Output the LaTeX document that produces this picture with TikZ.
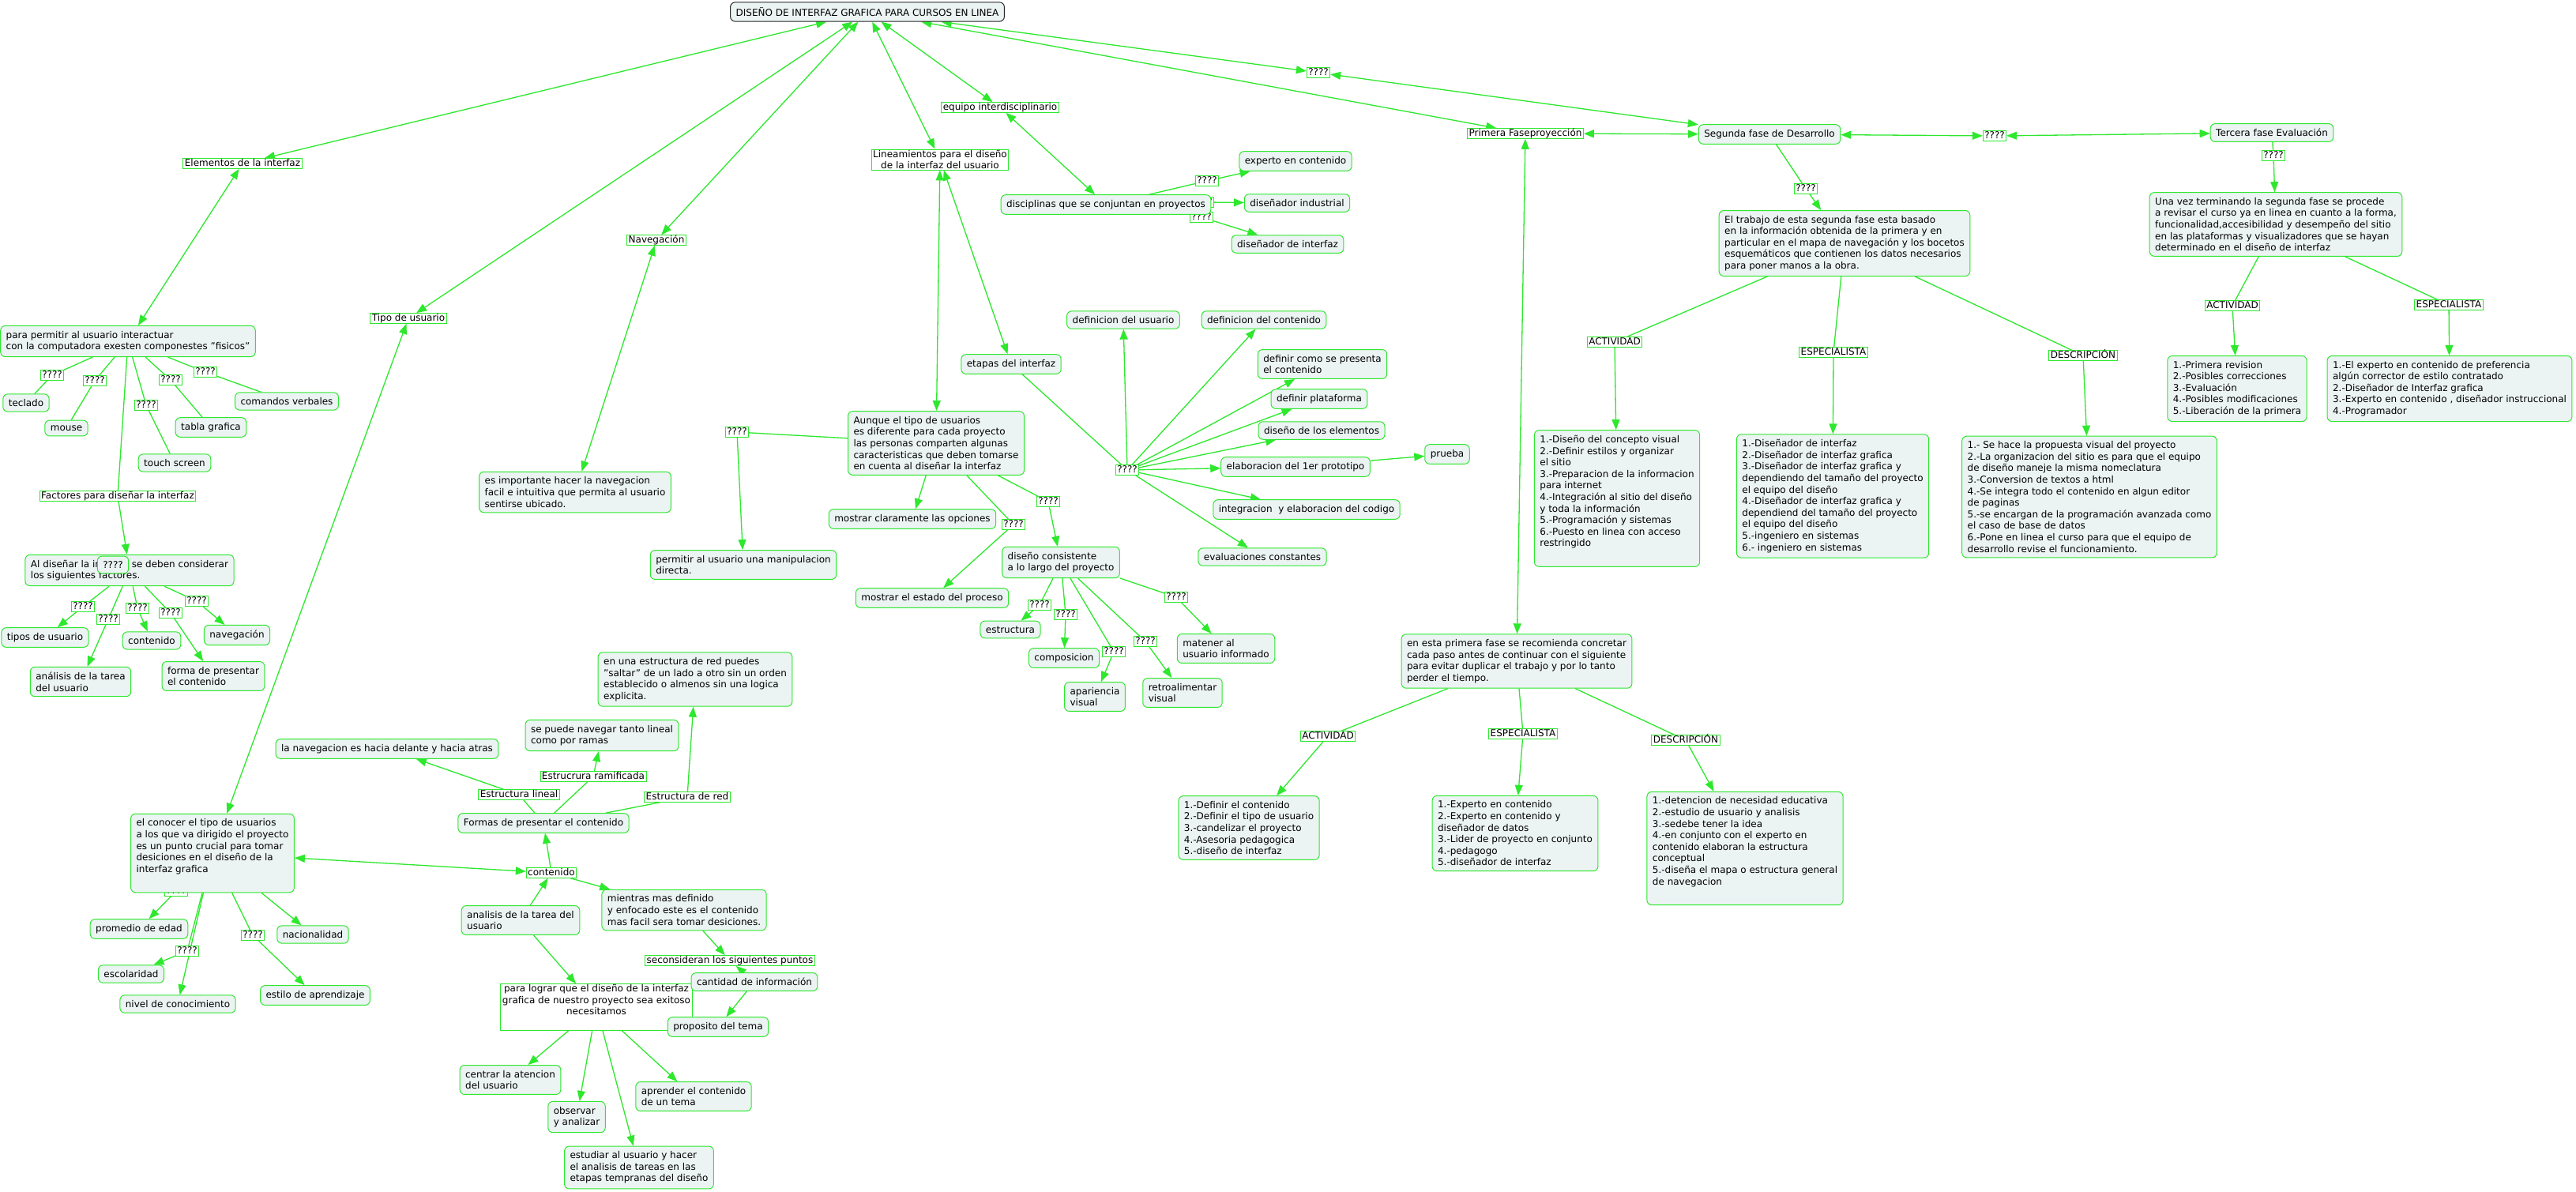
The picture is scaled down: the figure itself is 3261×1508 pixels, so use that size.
\documentclass[tikz,border=0pt]{standalone}
\usepackage{fontspec}
\setmainfont{DejaVu Sans}
\usetikzlibrary{arrows.meta}
\definecolor{cmgreen}{RGB}{45,232,45}
\definecolor{cmfill}{RGB}{236,243,243}
\tikzstyle{concept} = [draw=cmgreen, fill=cmfill, rounded corners=6pt, line width=1pt, align=left, inner xsep=7pt, inner ysep=6.5pt]
\tikzstyle{root} = [concept, draw=black!85]
\tikzstyle{link} = [draw=cmgreen, fill=white, line width=0.8pt, inner xsep=2pt, inner ysep=0.6pt, text height=9pt, text depth=2.6pt]
\tikzstyle{linkb} = [draw=cmgreen, fill=white, line width=0.8pt, align=center, inner xsep=2pt, inner ysep=1pt]
\tikzstyle{frame} = [draw=cmgreen, fill=white, line width=1pt, align=center, inner xsep=2pt, inner ysep=0.5pt]
\tikzstyle{conn} = [draw=cmgreen, line width=1.3pt]
\pgfdeclarelayer{edges}
\pgfsetlayers{edges,main}

\begin{document}
\begin{tikzpicture}[x=1pt,y=-1pt,font=\fontsize{12}{14.6}\selectfont,>={Triangle[length=13pt,width=10pt]}]
	\useasboundingbox (0,0) rectangle (3261,1508);

	% put the main nodes where we want them
	\node [root] (t0) at (1098,15) {DISEÑO DE INTERFAZ GRAFICA PARA CURSOS EN LINEA};
	\node [link] (q0) at (1669,92) {????};
	\node [link] (elem) at (307,207) {Elementos de la interfaz};
	\node [link] (tipo) at (517,403) {Tipo de usuario};
	\node [link] (nav) at (831,304) {Navegación};
	\node [linkb] (linea) at (1190,202) {Lineamientos para el diseño\\de la interfaz del usuario};
	\node [link] (equipo) at (1266,136) {equipo interdisciplinario};
	\node [link] (prim) at (1931,169) {Primera Faseproyección};
	\node [concept] (seg) at (2240,170) {Segunda fase de Desarrollo};
	\node [link] (qs) at (2525,172) {????};
	\node [concept] (terc) at (2876,168) {Tercera fase Evaluación};

	% equipo interdisciplinario
	\node [link] (qd2) at (1522,256) {????};
	\node [link] (qd3) at (1521,275) {????};
	\node [concept] (disc) at (1400,259) {disciplinas que se conjuntan en proyectos};
	\node [link] (qd1) at (1528,229) {????};
	\node [concept] (exp) at (1640,204) {experto en contenido};
	\node [concept] (ind) at (1642,257) {diseñador industrial};
	\node [concept] (dint) at (1630,309) {diseñador de interfaz};

	% tercera fase
	\node [link] (qt) at (2878,197) {????};
	\node [concept] (unavez) at (2881,284) {Una vez terminando la segunda fase se procede\\a revisar el curso ya en linea en cuanto a la forma,\\funcionalidad,accesibilidad y desempeño del sitio\\en las plataformas y visualizadores que se hayan\\determinado en el diseño de interfaz};
	\node [link] (actT) at (2826,387) {ACTIVIDAD};
	\node [link] (espT) at (3100,386) {ESPECIALISTA};
	\node [concept] (revT) at (2832,492) {1.-Primera revision\\2.-Posibles correcciones\\3.-Evaluación\\4.-Posibles modificaciones\\5.-Liberación de la primera};
	\node [concept] (expT) at (3101,492) {1.-El experto en contenido de preferencia\\algún corrector de estilo contratado\\2.-Diseñador de Interfaz grafica\\3.-Experto en contenido , diseñador instruccional\\4.-Programador};

	% segunda fase
	\node [link] (qsg) at (2286,239) {????};
	\node [concept] (trabajo) at (2335,308) {El trabajo de esta segunda fase esta basado\\en la información obtenida de la primera y en\\particular en el mapa de navegación y los bocetos\\esquemáticos que contienen los datos necesarios\\para poner manos a la obra.};
	\node [link] (actS) at (2044,433) {ACTIVIDAD};
	\node [link] (espS) at (2321,446) {ESPECIALISTA};
	\node [link] (desS) at (2637,450) {DESCRIPCIÓN};
	\node [concept] (boxAS) at (2047,631) {1.-Diseño del concepto visual\\2.-Definir estilos y organizar\\el sitio\\3.-Preparacion de la informacion\\para internet\\4.-Integración al sitio del diseño\\y toda la información\\5.-Programación y sistemas\\6.-Puesto en linea con acceso\\restringido\\\strut};
	\node [concept] (boxES) at (2320,628) {1.-Diseñador de interfaz\\2.-Diseñador de interfaz grafica\\3.-Diseñador de interfaz grafica y\\dependiendo del tamaño del proyecto\\el equipo del diseño\\4.-Diseñador de interfaz grafica y\\dependiend del tamaño del proyecto\\el equipo del diseño\\5.-ingeniero en sistemas\\6.- ingeniero en sistemas};
	\node [concept] (boxDS) at (2645,629) {1.- Se hace la propuesta visual del proyecto\\2.-La organizacion del sitio es para que el equipo\\de diseño maneje la misma nomeclatura\\3.-Conversion de textos a html\\4.-Se integra todo el contenido en algun editor\\de paginas\\5.-se encargan de la programación avanzada como\\el caso de base de datos\\6.-Pone en linea el curso para que el equipo de\\desarrollo revise el funcionamiento.};

	% primera fase
	\node [concept] (enesta) at (1920,837) {en esta primera fase se recomienda concretar\\cada paso antes de continuar con el siguiente\\para evitar duplicar el trabajo y por lo tanto\\perder el tiempo.};
	\node [link] (actP) at (1681,932) {ACTIVIDAD};
	\node [link] (espP) at (1928,929) {ESPECIALISTA};
	\node [link] (desP) at (2134,937) {DESCRIPCIÓN};
	\node [concept] (boxAP) at (1581,1048) {1.-Definir el contenido\\2.-Definir el tipo de usuario\\3.-candelizar el proyecto\\4.-Asesoria pedagogica\\5.-diseño de interfaz};
	\node [concept] (boxEP) at (1918,1055) {1.-Experto en contenido\\2.-Experto en contenido y\\diseñador de datos\\3.-Lider de proyecto en conjunto\\4.-pedagogo\\5.-diseñador de interfaz};
	\node [concept] (boxDP) at (2209,1074) {1.-detencion de necesidad educativa\\2.-estudio de usuario y analisis\\3.-sedebe tener la idea\\4.-en conjunto con el experto en\\contenido elaboran la estructura\\conceptual\\5.-diseña el mapa o estructura general\\de navegacion\\\strut};

	% elementos de la interfaz
	\node [concept] (permitir) at (162,432) {para permitir al usuario interactuar\\con la computadora exesten componestes "fisicos"};
	\node [link] (qk) at (66,475) {????};
	\node [link] (qm) at (120,482) {????};
	\node [link] (qts) at (185,513) {????};
	\node [link] (qtg) at (216,481) {????};
	\node [link] (qcv) at (260,471) {????};
	\node [concept] (teclado) at (33,510) {teclado};
	\node [concept] (mouse) at (84,542) {mouse};
	\node [concept] (touch) at (221,586) {touch screen};
	\node [concept] (tabla) at (267,541) {tabla grafica};
	\node [concept] (comandos) at (363,508) {comandos verbales};
	\node [link] (factores) at (149,628) {Factores para diseñar la interfaz};
	\node [concept] (aldis) at (164,722) {Al diseñar la interfaz se deben considerar\\los siguientes factores.};
	\node [concept] (qbox) at (143,715) {????};
	\node [link] (qa1) at (105,768) {????};
	\node [link] (qa2) at (137,784) {????};
	\node [link] (qa3) at (174,770) {????};
	\node [link] (qa4) at (216,776) {????};
	\node [link] (qa5) at (249,761) {????};
	\node [concept] (tipos) at (57,807) {tipos de usuario};
	\node [concept] (anT) at (102,863) {análisis de la tarea\\del usuario};
	\node [concept] (contC) at (192,811) {contenido};
	\node [concept] (forma) at (270,856) {forma de presentar\\el contenido};
	\node [concept] (navC) at (300,804) {navegación};

	% tipo de usuario
	\node [link] (qh) at (223,1128) {????};
	\node [concept] (conocer) at (269,1080) {el conocer el tipo de usuarios\\a los que va dirigido el proyecto\\es un punto crucial para tomar\\desiciones en el diseño de la\\interfaz grafica\\\strut};
	\node [link] (qesc) at (237,1204) {????};
	\node [link] (qest) at (320,1184) {????};
	\node [concept] (promedio) at (176,1176) {promedio de edad};
	\node [concept] (escol) at (166,1233) {escolaridad};
	\node [concept] (nivel) at (225,1271) {nivel de conocimiento};
	\node [concept] (estilo) at (399,1260) {estilo de aprendizaje};
	\node [concept] (nacion) at (396,1183) {nacionalidad};

	% contenido
	\node [concept] (lanav) at (490,948) {la navegacion es hacia delante y hacia atras};
	\node [concept] (sepuede) at (762,931) {se puede navegar tanto lineal\\como por ramas};
	\node [concept] (enuna) at (880,860) {en una estructura de red puedes\\"saltar" de un lado a otro sin un orden\\establecido o almenos sin una logica\\explicita.};
	\node [concept] (formas) at (688,1042) {Formas de presentar el contenido};
	\node [link] (lineal) at (657,1006) {Estructura lineal};
	\node [link] (ramif) at (751,983) {Estrucrura ramificada};
	\node [link] (red) at (870,1009) {Estructura de red};
	\node [link] (contl) at (698,1105) {contenido};
	\node [concept] (analisis) at (659,1165) {analisis de la tarea del\\usuario};
	\node [concept] (mientras) at (866,1152) {mientras mas definido\\y enfocado este es el contenido\\mas facil sera tomar desiciones.};
	\node [link] (secons) at (924,1216) {seconsideran los siguientes puntos};
	\node [frame] (lograr) at (755,1275) {para lograr que el diseño de la interfaz\\grafica de nuestro proyecto sea exitoso\\necesitamos\\\strut};
	\node [concept] (cantidad) at (955,1243) {cantidad de información};
	\node [concept] (proposito) at (909,1300) {proposito del tema};
	\node [concept] (centrar) at (646,1367) {centrar la atencion\\del usuario};
	\node [concept] (observar) at (730,1414) {observar\\y analizar};
	\node [concept] (estudiar) at (809,1478) {estudiar al usuario y hacer\\el analisis de tareas en las\\etapas tempranas del diseño};
	\node [concept] (aprender) at (878,1388) {aprender el contenido\\de un tema};

	% navegacion y lineamientos
	\node [concept] (esimp) at (728,623) {es importante hacer la navegacion\\facil e intuitiva que permita al usuario\\sentirse ubicado.};
	\node [concept] (aunque) at (1185,561) {Aunque el tipo de usuarios\\es diferente para cada proyecto\\las personas comparten algunas\\caracteristicas que deben tomarse\\en cuenta al diseñar la interfaz};
	\node [link] (qa) at (933,547) {????};
	\node [concept] (permD) at (941,715) {permitir al usuario una manipulacion\\directa.};
	\node [concept] (mclar) at (1155,657) {mostrar claramente las opciones};
	\node [link] (qme) at (1283,664) {????};
	\node [concept] (mest) at (1180,757) {mostrar el estado del proceso};
	\node [link] (qdc) at (1327,635) {????};
	\node [concept] (discons) at (1343,712) {diseño consistente\\a lo largo del proyecto};
	\node [link] (qe1) at (1316,766) {????};
	\node [link] (qe2) at (1349,778) {????};
	\node [link] (qe3) at (1410,825) {????};
	\node [link] (qe4) at (1450,812) {????};
	\node [link] (qe5) at (1489,756) {????};
	\node [concept] (estruct) at (1279,797) {estructura};
	\node [concept] (compos) at (1347,833) {composicion};
	\node [concept] (aparie) at (1386,882) {apariencia\\visual};
	\node [concept] (retro) at (1497,877) {retroalimentar\\visual};
	\node [concept] (matener) at (1552,821) {matener al\\usuario informado};

	% etapas del interfaz
	\node [concept] (etapas) at (1280,461) {etapas del interfaz};
	\node [link] (hub) at (1427,595) {????};
	\node [concept] (defu) at (1422,405) {definicion del usuario};
	\node [concept] (defc) at (1600,405) {definicion del contenido};
	\node [concept] (defcomo) at (1674,461) {definir como se presenta\\el contenido};
	\node [concept] (defplat) at (1670,505) {definir plataforma};
	\node [concept] (diselem) at (1673,545) {diseño de los elementos};
	\node [concept] (elab) at (1640,591) {elaboracion del 1er prototipo};
	\node [concept] (prueba) at (1832,575) {prueba};
	\node [concept] (integ) at (1654,645) {integracion\ \ y elaboracion del codigo};
	\node [concept] (evalc) at (1598,705) {evaluaciones constantes};

	% draw the connectors under the nodes
	\begin{pgfonlayer}{edges}
	\fill [white] (0,0) rectangle (3261,1508);
	\draw [conn,<->] (t0) -- (elem);
	\draw [conn,<->] (t0) -- (tipo);
	\draw [conn,<->] (t0) -- (nav);
	\draw [conn,<->] (t0) -- (linea);
	\draw [conn,<->] (t0) -- (equipo);
	\draw [conn,<->] (t0) -- (q0);
	\draw [conn,<->] (t0) -- (prim);
	\draw [conn,<->] (q0) -- (seg);
	\draw [conn,<->] (prim) -- (seg);
	\draw [conn,<->] (prim) -- (enesta);
	\draw [conn,<->] (seg) -- (qs);
	\draw [conn,<->] (qs) -- (terc);
	\draw [conn,<->] (elem) -- (permitir);
	\draw [conn,<->] (tipo) -- (conocer);
	\draw [conn,<->] (nav) -- (esimp);
	\draw [conn,<->] (linea) -- (aunque);
	\draw [conn,<->] (linea) -- (etapas);
	\draw [conn,<->] (equipo) -- (disc);
	\draw [conn,<->] (conocer) -- (contl);

	% equipo
	\draw [conn] (disc) -- (qd1);
	\draw [conn,->] (qd1) -- (exp);
	\draw [conn,->] (qd2) -- (ind);
	\draw [conn,->] (qd3) -- (dint);

	% fases
	\draw [conn] (terc) -- (qt);
	\draw [conn,->] (qt) -- (unavez);
	\draw [conn] (unavez) -- (actT);
	\draw [conn,->] (actT) -- (revT);
	\draw [conn] (unavez) -- (espT);
	\draw [conn,->] (espT) -- (expT);
	\draw [conn] (seg) -- (qsg);
	\draw [conn,->] (qsg) -- (trabajo);
	\draw [conn] (trabajo) -- (actS);
	\draw [conn,->] (actS) -- (boxAS);
	\draw [conn] (trabajo) -- (espS);
	\draw [conn,->] (espS) -- (boxES);
	\draw [conn] (trabajo) -- (desS);
	\draw [conn,->] (desS) -- (boxDS);
	\draw [conn] (enesta) -- (actP);
	\draw [conn,->] (actP) -- (boxAP);
	\draw [conn] (enesta) -- (espP);
	\draw [conn,->] (espP) -- (boxEP);
	\draw [conn] (enesta) -- (desP);
	\draw [conn,->] (desP) -- (boxDP);

	% elementos
	\draw [conn] (permitir) -- (qk) -- (teclado);
	\draw [conn] (permitir) -- (qm) -- (mouse);
	\draw [conn] (permitir) -- (qts) -- (touch);
	\draw [conn] (permitir) -- (qtg) -- (tabla);
	\draw [conn] (permitir) -- (qcv) -- (comandos);
	\draw [conn] (permitir) -- (factores);
	\draw [conn,->] (factores) -- (aldis);
	\draw [conn] (aldis) -- (qa1);
	\draw [conn,->] (qa1) -- (tipos);
	\draw [conn] (aldis) -- (qa2);
	\draw [conn,->] (qa2) -- (anT);
	\draw [conn] (aldis) -- (qa3);
	\draw [conn,->] (qa3) -- (contC);
	\draw [conn] (aldis) -- (qa4);
	\draw [conn,->] (qa4) -- (forma);
	\draw [conn] (aldis) -- (qa5);
	\draw [conn,->] (qa5) -- (navC);

	% tipo de usuario
	\draw [conn,->] (qh) -- (promedio);
	\draw [conn] (conocer) -- (qesc);
	\draw [conn,->] (qesc) -- (escol);
	\draw [conn,->] (conocer) -- (nivel);
	\draw [conn] (conocer) -- (qest);
	\draw [conn,->] (qest) -- (estilo);
	\draw [conn,->] (conocer) -- (nacion);

	% contenido
	\draw [conn,->] (contl) -- (formas);
	\draw [conn] (formas) -- (lineal);
	\draw [conn,->] (lineal) -- (lanav);
	\draw [conn] (formas) -- (ramif);
	\draw [conn,->] (ramif) -- (sepuede);
	\draw [conn] (formas.north east) ++(-30,0) -- (red);
	\draw [conn,->] (red) -- (enuna);
	\draw [conn,->] (analisis) -- (contl);
	\draw [conn,->] (contl) -- (mientras);
	\draw [conn,->] (analisis) -- (lograr);
	\draw [conn,->] (mientras) -- (secons);
	\draw [conn,->] (cantidad) -- (secons);
	\draw [conn,->] (cantidad) -- (proposito);
	\draw [conn,->] (lograr) -- (centrar);
	\draw [conn,->] (lograr) -- (observar);
	\draw [conn,->] (lograr) -- (estudiar);
	\draw [conn,->] (lograr) -- (aprender);

	% lineamientos
	\draw [conn] (aunque) -- (qa);
	\draw [conn,->] (qa) -- (permD);
	\draw [conn,->] (aunque) -- (mclar);
	\draw [conn] (aunque) -- (qme);
	\draw [conn,->] (qme) -- (mest);
	\draw [conn] (aunque) -- (qdc);
	\draw [conn,->] (qdc) -- (discons);
	\draw [conn] (discons) -- (qe1);
	\draw [conn,->] (qe1) -- (estruct);
	\draw [conn] (discons) -- (qe2);
	\draw [conn,->] (qe2) -- (compos);
	\draw [conn] (discons) -- (qe3);
	\draw [conn,->] (qe3) -- (aparie);
	\draw [conn] (discons) -- (qe4);
	\draw [conn,->] (qe4) -- (retro);
	\draw [conn] (discons.east) ++(0,20) -- (qe5);
	\draw [conn,->] (qe5) -- (matener);

	% etapas
	\draw [conn] (etapas) -- (hub);
	\foreach \n in {defu,defc,defcomo,defplat,diselem,elab,integ,evalc}
		\draw [conn,->] (hub) -- (\n);
	\draw [conn,->] (elab) -- (prueba);
	\end{pgfonlayer}
\end{tikzpicture}
\end{document}
